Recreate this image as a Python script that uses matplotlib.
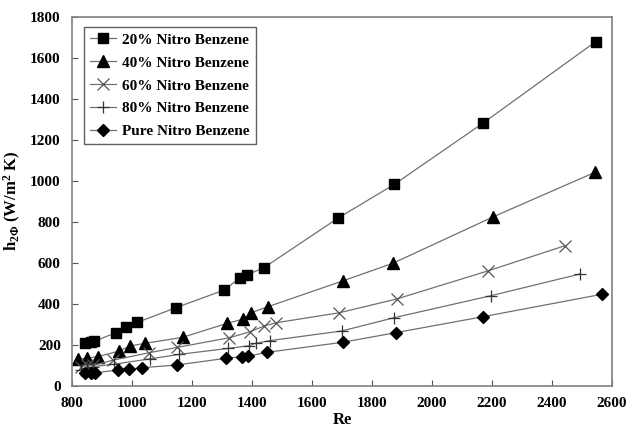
import matplotlib
matplotlib.use('Agg')
import matplotlib.pyplot as plt
import numpy as np

plt.rcParams['font.family'] = 'Liberation Serif'
plt.rcParams['font.weight'] = 'bold'
plt.rcParams['mathtext.fontset'] = 'custom'
plt.rcParams['mathtext.rm'] = 'Liberation Serif:bold'
plt.rcParams['mathtext.it'] = 'Liberation Serif:bold'
plt.rcParams['mathtext.bf'] = 'Liberation Serif:bold'

# 20% nitro benzene
re20 = [843, 862, 875, 947, 980, 1018, 1147, 1308, 1360, 1382, 1440, 1686, 1874, 2169, 2545]
h20 = [206, 212, 216, 258, 287, 308, 380, 466, 526, 539, 575, 816, 981, 1279, 1677]
# 40%
re40 = [821, 849, 886, 957, 993, 1044, 1169, 1316, 1371, 1397, 1452, 1704, 1869, 2204, 2543]
h40 = [128, 133, 141, 168, 193, 206, 235, 303, 324, 355, 384, 511, 596, 823, 1040]
# 60%
re60 = [830, 850, 870, 938, 1057, 1151, 1324, 1393, 1440, 1480, 1691, 1882, 2186, 2443]
h60 = [92, 100, 98, 124, 160, 186, 233, 262, 290, 306, 355, 422, 559, 682]
# 80%
re80 = [830, 850, 870, 940, 1060, 1158, 1320, 1390, 1412, 1460, 1699, 1874, 2196, 2493]
h80 = [78, 84, 92, 104, 130, 152, 181, 194, 206, 219, 266, 331, 438, 544]
# pure
re100 = [843, 862, 878, 954, 991, 1034, 1149, 1314, 1366, 1388, 1451, 1702, 1880, 2171, 2566]
h100 = [59, 60, 62, 76, 79, 87, 100, 133, 141, 144, 162, 211, 258, 336, 445]

labels = ['20% Nitro Benzene', '40% Nitro Benzene', '60% Nitro Benzene',
          '80% Nitro Benzene', 'Pure Nitro Benzene']

fig = plt.figure(figsize=(6.28, 4.37), dpi=100)
ax = fig.add_axes([0.1146, 0.1178, 0.86, 0.8444])

lc = '#707070'
ax.plot(re20, h20, '-', color=lc, lw=0.9, marker='s', ms=7, mfc='black', mec='black', label=labels[0])
ax.plot(re40, h40, '-', color=lc, lw=0.9, marker='^', ms=8, mfc='black', mec='black', label=labels[1])
ax.plot(re60, h60, '-', color=lc, lw=0.9, marker='x', ms=8, mec='#555555', mew=0.9, label=labels[2])
ax.plot(re80, h80, '-', color=lc, lw=0.9, marker='+', ms=9, mec='#333333', mew=0.9, label=labels[3])
ax.plot(re100, h100, '-', color=lc, lw=0.9, marker='D', ms=6, mfc='black', mec='black', label=labels[4])

ax.set_xlim(800, 2600)
ax.set_ylim(0, 1800)
ax.set_xticks(np.arange(800, 2601, 200))
ax.set_yticks(np.arange(0, 1801, 200))
ax.tick_params(direction='in', length=4, width=0.8, color='#555555', labelsize=11, pad=8)
for lab in ax.get_xticklabels() + ax.get_yticklabels():
    lab.set_fontweight('bold')
for s in ax.spines.values():
    s.set_color('#808080')
    s.set_linewidth(1.2)

ax.set_xlabel('Re', fontsize=12, fontweight='bold', labelpad=2)
ax.set_ylabel(r'h$_{2\Phi}$ (W/m$^{2}$ K)', fontsize=12, fontweight='bold', labelpad=5)

leg = ax.legend(loc='upper left', bbox_to_anchor=(0.022, 0.9715), borderaxespad=0, fancybox=False,
                edgecolor='#606060', framealpha=1, prop={'family': 'Liberation Serif', 'weight': 'bold', 'size': 11},
                labelspacing=0.6, handlelength=1.7, handletextpad=0.4, borderpad=0.4)
leg.get_frame().set_linewidth(1.0)

fig.savefig('out.png', dpi=100)
